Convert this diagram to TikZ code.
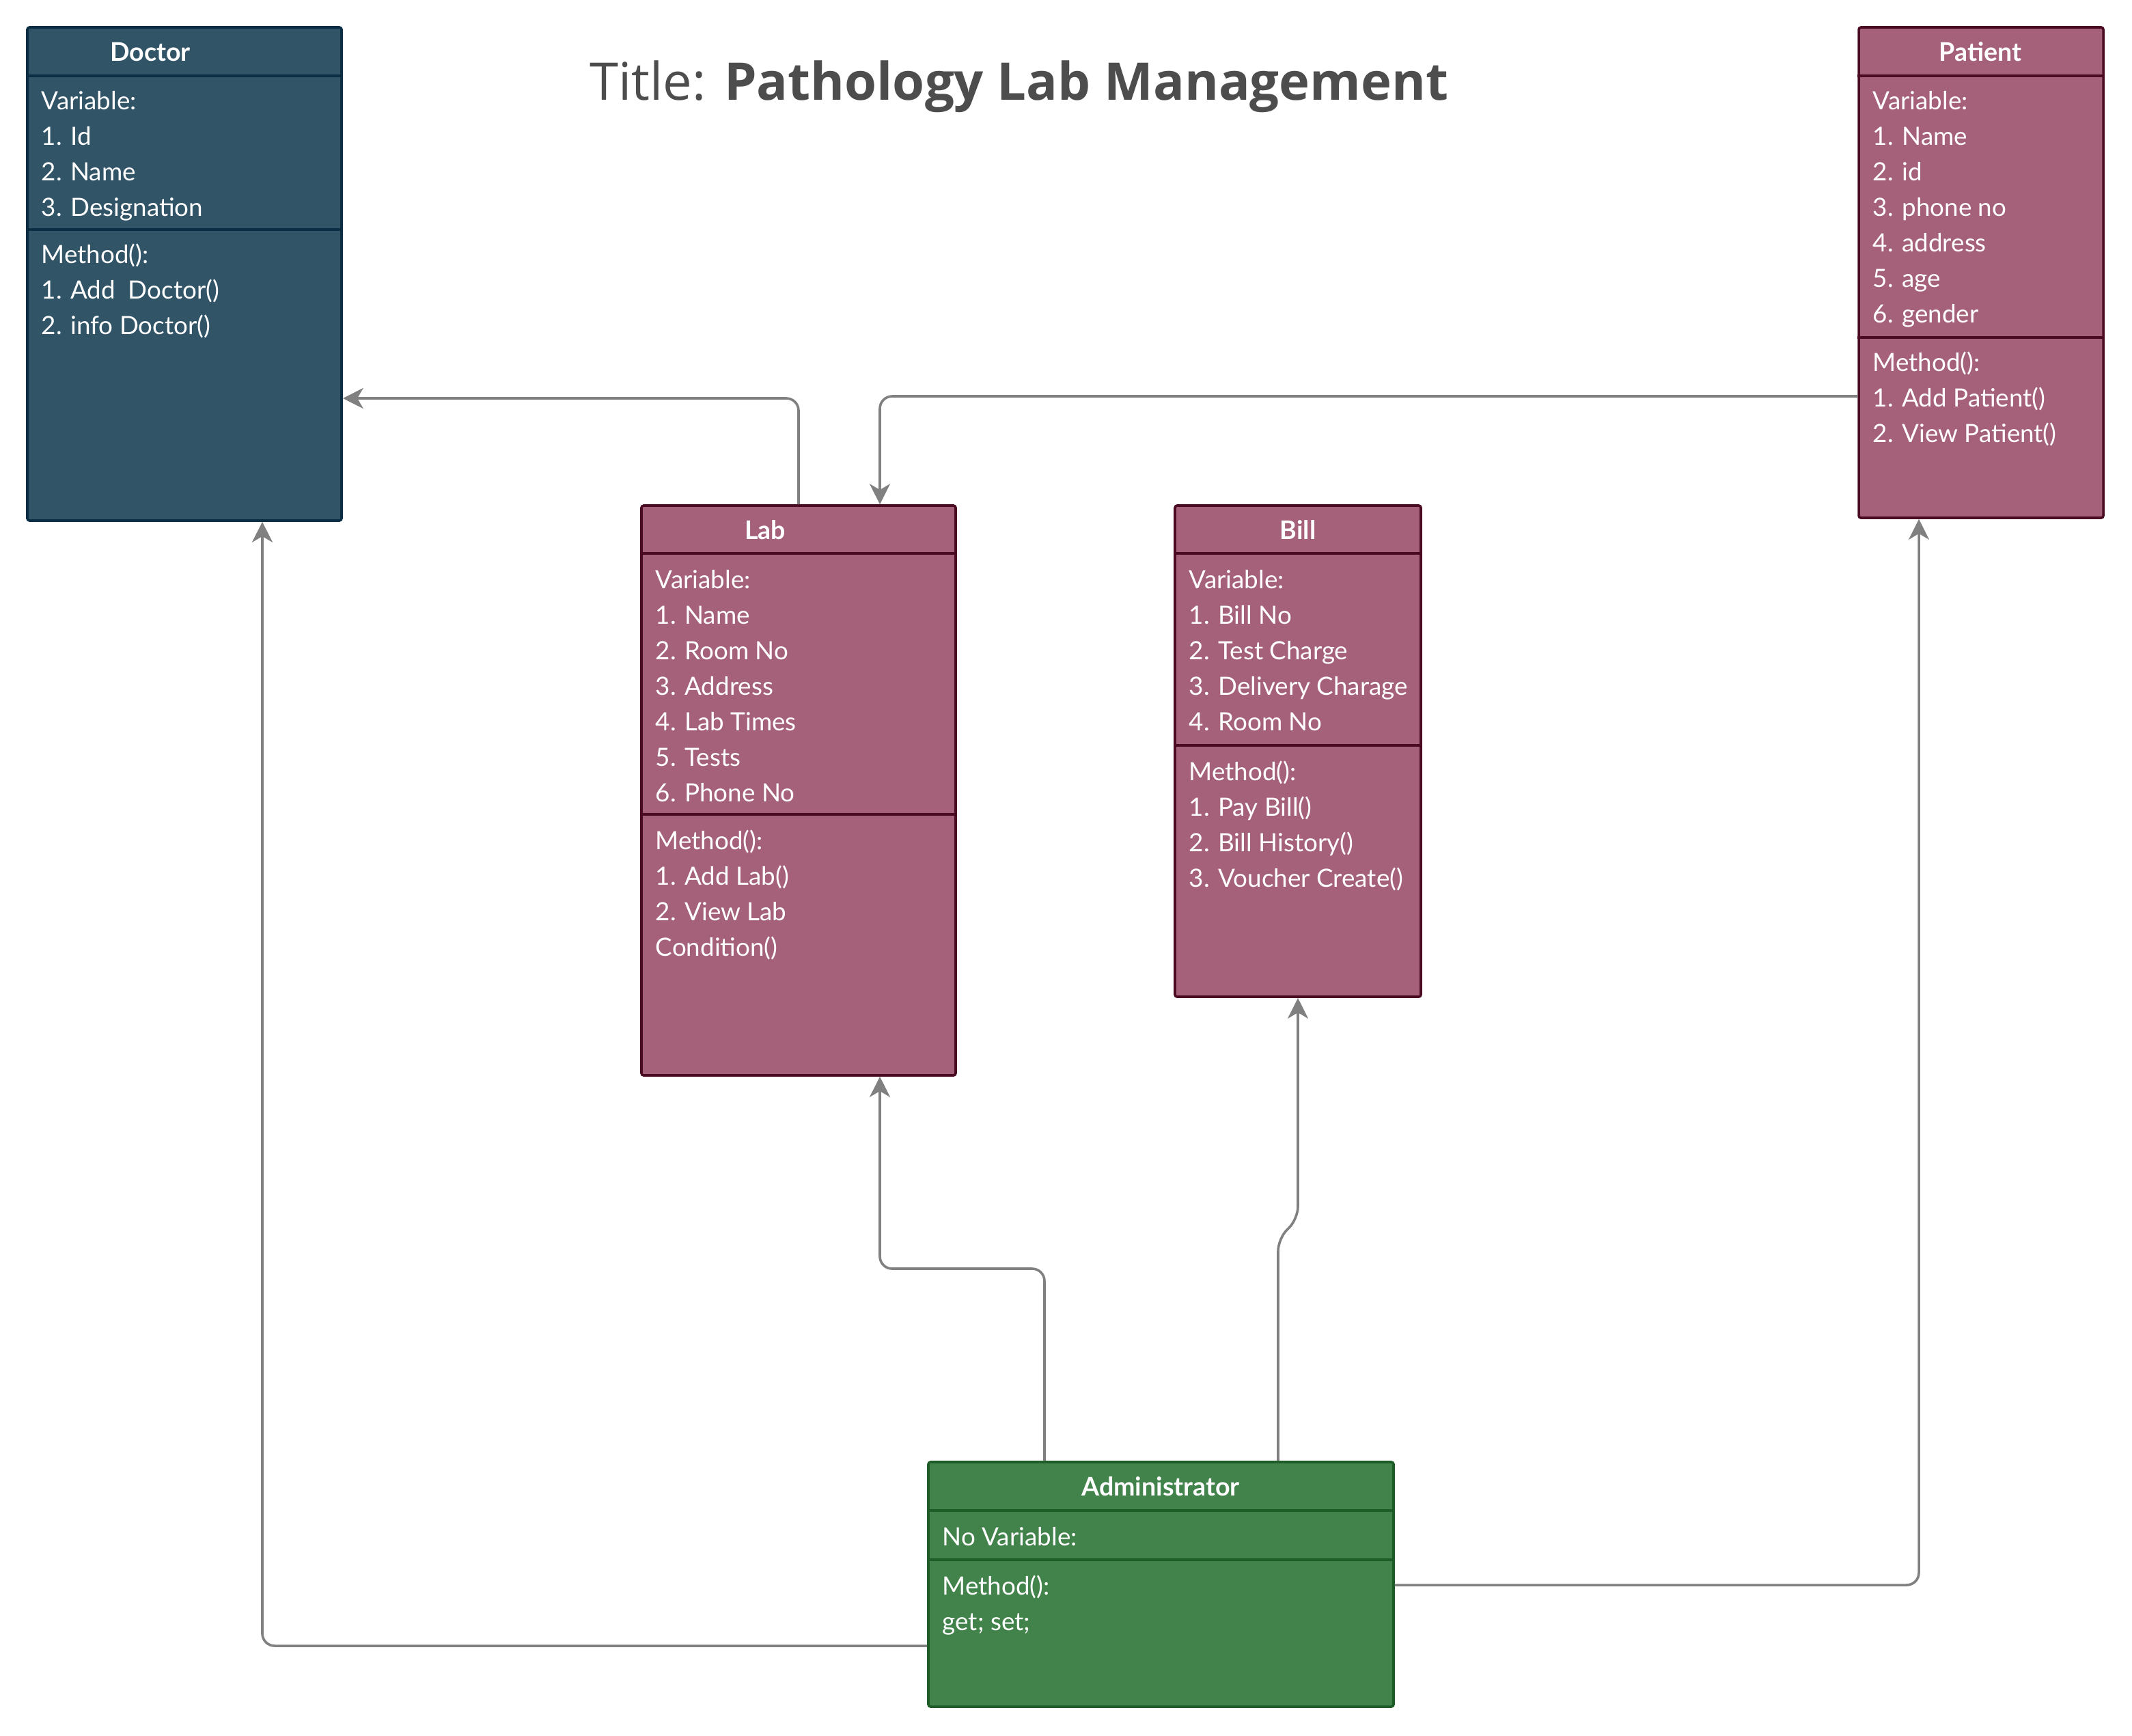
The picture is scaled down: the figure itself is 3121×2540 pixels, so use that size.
\documentclass[tikz,border=0pt]{standalone}
\usepackage{fontspec}
\setmainfont{Lato}
\newfontfamily\titlefont{Open Sans}
\usetikzlibrary{arrows.meta,fit}
\definecolor{docfill}{HTML}{325467}
\definecolor{docline}{HTML}{0B2E44}
\definecolor{pinkfill}{HTML}{A5617A}
\definecolor{pinkline}{HTML}{4A0B22}
\definecolor{greenfill}{HTML}{42834C}
\definecolor{greenline}{HTML}{1D5B27}
\definecolor{conngray}{HTML}{808080}
\definecolor{titlegray}{HTML}{4D4D4D}
\newcommand\umllines[4]{%
  \foreach \t [count=\i from 0] in {#3} {\node[txt] (#4-\i) at (#1, {#2+52*\i}) {\t};}}
\begin{document}
\begin{tikzpicture}[x=0.25pt,y=-0.25pt,
  umlbox/.style={line width=0.9pt, rounded corners=0.8pt, inner sep=0pt},
  docbox/.style={umlbox, fill=docfill, draw=docline},
  pinkbox/.style={umlbox, fill=pinkfill, draw=pinkline},
  greenbox/.style={umlbox, fill=greenfill, draw=greenline},
  sep/.style={line width=0.9pt},
  conn/.style={draw=conngray, line width=0.9pt, rounded corners=4.5pt,
    -{Stealth[length=7.5pt,width=7.5pt,inset=2.2pt]}},
  hdr/.style={font=\bfseries\fontsize{9.4pt}{13pt}\selectfont, text=white, inner sep=0pt},
  txt/.style={font=\fontsize{9.2pt}{13pt}\selectfont, text=white, inner sep=0pt, anchor=base west}]
\fill[white] (0,0) rectangle (3121,2540);
\useasboundingbox (0,0) rectangle (3121,2540);

% Title
\node[font=\titlefont\fontsize{19pt}{23pt}\selectfont, text=titlegray, anchor=base, inner sep=0pt]
  (title) at (1492,146) {Title: \textbf{Pathology Lab Management}};

% Doctor
\node[docbox, fit={(40,40) (500,762)}] (doctor) {};
\draw[sep, docline] (doctor.west |- 0,111) -- (doctor.east |- 0,111);
\draw[sep, docline] (doctor.west |- 0,336) -- (doctor.east |- 0,336);
\node[hdr] (doctor-t) at (220,76) {Doctor};
\umllines{60}{160}{Variable:,1. Id,2. Name,3. Designation}{dv}
\umllines{60}{385}{Method():,1. Add\ \ Doctor(),2. info Doctor()}{dm}

% Patient
\node[pinkbox, fit={(2721,40) (3079,758)}] (patient) {};
\draw[sep, pinkline] (patient.west |- 0,111) -- (patient.east |- 0,111);
\draw[sep, pinkline] (patient.west |- 0,494) -- (patient.east |- 0,494);
\node[hdr] (patient-t) at (2899,76) {Patient};
\umllines{2741}{160}{Variable:,1. Name,2. id,3. phone no,4. address,5. age,6. gender}{pv}
\umllines{2741}{543}{Method():,1. Add Patient(),2. View Patient()}{pm}

% Lab
\node[pinkbox, fit={(939,740) (1399,1574)}] (lab) {};
\draw[sep, pinkline] (lab.west |- 0,810) -- (lab.east |- 0,810);
\draw[sep, pinkline] (lab.west |- 0,1192) -- (lab.east |- 0,1192);
\node[hdr] (lab-t) at (1120,776) {Lab};
\umllines{959}{861}{Variable:,1. Name,2. Room No,3. Address,4. Lab Times,5. Tests,6. Phone No}{lv}
\umllines{959}{1243}{Method():,1. Add Lab(),2. View Lab,Condition()}{lm}

% Bill
\node[pinkbox, fit={(1720,740) (2080,1459)}] (bill) {};
\draw[sep, pinkline] (bill.west |- 0,810) -- (bill.east |- 0,810);
\draw[sep, pinkline] (bill.west |- 0,1091) -- (bill.east |- 0,1091);
\node[hdr] (bill-t) at (1900,776) {Bill};
\umllines{1740}{861}{Variable:,1. Bill No,2. Test Charge,3. Delivery Charage,4. Room No}{bv}
\umllines{1740}{1142}{Method():,1. Pay Bill(),2. Bill History(),3. Voucher Create()}{bm}

% Administrator
\node[greenbox, fit={(1359,2140) (2040,2498)}] (admin) {};
\draw[sep, greenline] (admin.west |- 0,2211) -- (admin.east |- 0,2211);
\draw[sep, greenline] (admin.west |- 0,2283) -- (admin.east |- 0,2283);
\node[hdr] (admin-t) at (1699,2176) {Administrator};
\umllines{1379}{2262}{No Variable:}{av}
\umllines{1379}{2334}{Method():,get; set;}{am}

% Connectors
\draw[conn] (lab.north) |- (doctor.east |- 0,583);
\draw[conn] (patient.west |- 0,580) -| (lab.north -| 1288,0);
\draw[conn] (admin.north -| 1529,0) -- (1529,1857) -- (1288,1857) -- (lab.south -| 1288,0);
\draw[conn] (admin.north -| 1871,0) -- (1871,1813) -- (1900,1784) -- (bill.south);
\draw[conn] (admin.west |- 0,2409) -| (doctor.south -| 384,0);
\draw[conn] (admin.east |- 0,2320) -| (patient.south -| 2809,0);
\end{tikzpicture}
\end{document}
